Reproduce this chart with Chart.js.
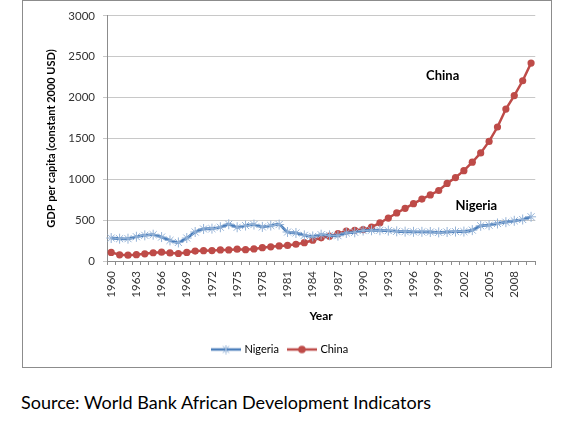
<!DOCTYPE html>
<html>
<head>
<meta charset="utf-8">
<script src="https://cdn.jsdelivr.net/npm/chart.js@4/dist/chart.umd.min.js"></script>
<style>
  html, body { margin: 0; padding: 0; background: #fff; }
  body { width: 566px; height: 437px; position: relative; overflow: hidden; font-family: Lato, "Open Sans", sans-serif; }
  #frame { position: absolute; left: 22px; top: 0px; width: 530px; height: 368px; border: 1px solid #8c8c8c; box-sizing: border-box; }
  #cv { position: absolute; left: 0; top: 0; }
  #source { position: absolute; left: 21px; top: 391px; font-size: 18px; color: #000; white-space: nowrap; }
</style>
</head>
<body>
<div id="frame"><canvas id="cv" width="528" height="366"></canvas></div>
<div id="source">Source: World Bank African Development Indicators</div>
<script>
const years = [];
for (let y = 1960; y <= 2010; y++) years.push(String(y));

const nigeria = [281, 273, 273, 297, 314, 322, 293, 252, 227, 281, 355, 392, 396, 413, 450, 413, 434, 446,
  417, 434, 446, 355, 343, 314, 301, 322, 314, 310, 343, 351, 372, 376, 376, 372, 363, 359,
  357, 357, 355, 350, 355, 360, 360, 378, 431, 438, 459, 475, 492, 508, 541];

const china = [105, 76, 71, 77, 88, 101, 108, 99, 92, 105, 121, 126, 127, 135, 136, 145, 139, 148,
  163, 173, 184, 191, 205, 224, 254, 284, 304, 334, 366, 376, 385, 414, 467, 526, 588, 645,
  702, 758, 809, 863, 949, 1021, 1106, 1209, 1323, 1464, 1640, 1860, 2025, 2206, 2423];

const yTicks = [0, 500, 1000, 1500, 2000, 2500, 3000];

const seriesNames = ['Nigeria', 'China'];
const annotations = [
  { text: 'China', year: '1999', value: 2268 },
  { text: 'Nigeria', year: '2003', value: 670 }
];

const NIG_LINE = '#4a7ebb';
const NIG_MARK = '#95b3d7';
const CHN_LINE = '#be4b48';

function legendIcon(kind) {
  const c = document.createElement('canvas');
  c.width = 30; c.height = 10;
  const g = c.getContext('2d');
  g.lineWidth = 2.5;
  g.strokeStyle = kind === 'n' ? NIG_LINE : CHN_LINE;
  g.beginPath(); g.moveTo(0, 5); g.lineTo(30, 5); g.stroke();
  if (kind === 'n') {
    g.strokeStyle = NIG_MARK; g.lineWidth = 1;
    g.beginPath();
    g.moveTo(12, 1.5); g.lineTo(18, 8.5);
    g.moveTo(18, 1.5); g.lineTo(12, 8.5);
    g.moveTo(15, 0.5); g.lineTo(15, 9.5);
    g.stroke();
  } else {
    g.fillStyle = CHN_LINE;
    g.beginPath(); g.arc(15, 5, 3.8, 0, Math.PI * 2); g.fill();
  }
  return c;
}
const icons = [legendIcon('n'), legendIcon('c')];

const annotationPlugin = {
  id: 'annot',
  afterDatasetsDraw(chart) {
    const ctx = chart.ctx;
    const xs = chart.scales.x, ys = chart.scales.y;
    ctx.save();
    ctx.font = 'bold 13px Lato';
    ctx.fillStyle = '#000';
    ctx.textAlign = 'center';
    ctx.textBaseline = 'middle';
    annotations.forEach(a => {
      ctx.fillText(a.text, xs.getPixelForValue(years.indexOf(a.year)) + 4, ys.getPixelForValue(a.value));
    });
    ctx.restore();
  }
};

const PADB = 2;

new Chart(document.getElementById('cv'), {
  type: 'line',
  data: {
    labels: years,
    datasets: [
      {
        label: seriesNames[0], data: nigeria,
        borderColor: NIG_LINE, borderWidth: 2.8, tension: 0.3,
        pointStyle: 'star', pointRadius: 5, pointBorderColor: NIG_MARK, pointBackgroundColor: NIG_MARK,
        pointBorderWidth: 1, pointHoverRadius: 5
      },
      {
        label: seriesNames[1], data: china,
        borderColor: CHN_LINE, borderWidth: 2.5, tension: 0,
        pointStyle: 'circle', pointRadius: 3.6, pointBorderColor: CHN_LINE, pointBackgroundColor: CHN_LINE,
        pointBorderWidth: 0, pointHoverRadius: 3.6
      }
    ]
  },
  options: {
    responsive: false,
    animation: false,
    devicePixelRatio: 1,
    layout: { padding: { left: 0, right: 13, top: 14, bottom: PADB } },
    plugins: {
      tooltip: { enabled: false },
      legend: {
        position: 'bottom',
        labels: {
          usePointStyle: true,
          pointStyleWidth: 26,
          font: { family: 'Lato', size: 11 },
          color: '#000',
          padding: 10,
          generateLabels(chart) {
            const items = Chart.defaults.plugins.legend.labels.generateLabels(chart);
            items.forEach((it, i) => { it.pointStyle = icons[i]; });
            return items;
          }
        }
      }
    },
    scales: {
      x: {
        type: 'category',
        offset: true,
        afterFit(scale) {
          const lh = scale.chart.legend ? scale.chart.legend.height : 0;
          scale.height = scale.chart.height - PADB - lh - 260;
        },
        grid: { display: true, drawOnChartArea: false, drawTicks: true, tickLength: 4, offset: true, color: '#8c8c8c' },
        border: { display: true, color: '#8c8c8c' },
        ticks: {
          autoSkip: false, minRotation: 90, maxRotation: 90, padding: 6,
          color: '#333', font: { family: 'Lato', size: 11.5 },
          callback(v, i) { return i % 3 === 0 ? years[i] : ''; }
        },
        title: { display: true, text: 'Year', font: { family: 'Lato', size: 12, weight: 'bold' }, color: '#000', padding: { top: 4, bottom: 11 } }
      },
      y: {
        min: 0, max: 3000,
        afterFit(scale) { scale.width = 84; },
        afterBuildTicks(scale) { scale.ticks = yTicks.map(v => ({ value: v })); },
        grid: { color: '#c8c8c8', tickLength: 4, drawTicks: true },
        border: { display: true, color: '#8c8c8c' },
        ticks: { padding: 8, color: '#333', font: { family: 'Lato', size: 11.5 }, callback(v) { return String(v); } },
        title: {
          display: true, text: 'GDP per capita (constant 2000 USD)',
          font: { family: 'Lato', size: 11, weight: 'bold' }, color: '#000', padding: { top: 22, bottom: 0 }
        }
      }
    }
  },
  plugins: [annotationPlugin]
});
</script>
</body>
</html>
